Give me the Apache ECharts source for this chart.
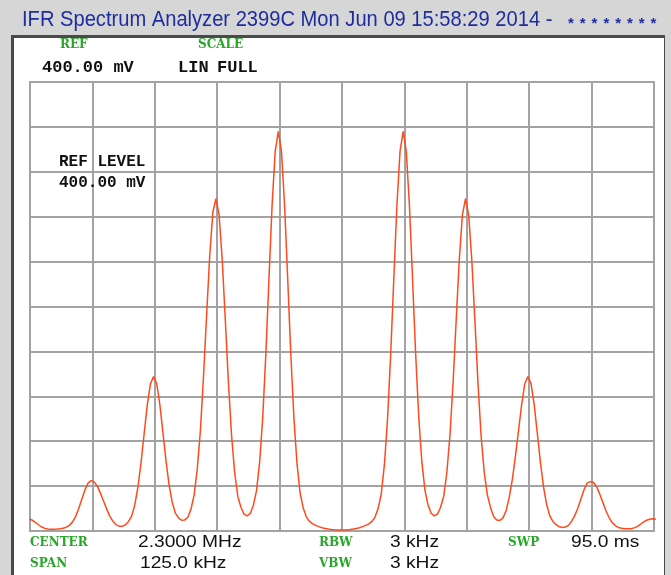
<!DOCTYPE html>
<html>
  <meta charset="UTF-8">
  <title>IFR 2399C spectrum</title>
  <style type="text/css">
    html,body{margin:0px;height:100%;width:100%;background:#d6d6d6}
    .container{width:671px;height:575px}
  </style>
  <script type="text/javascript" src="https://cdn.jsdelivr.net/npm/echarts@6/dist/echarts.min.js"></script>
  <body>
    <div id="main" class="container"></div>

    <script>
      // trace: offsets from centre in kHz, level in mV
      var startKHz = -62.75;
      var stepKHz = 0.625;
      var levelMV = [
        10.8, 9.8, 8.0, 5.8, 3.8, 2.5, 1.8, 1.5, 1.5, 1.7, 2.0, 2.5, 3.4, 5.0, 7.9, 12.8, 19.9, 28.3, 36.6, 42.7,
        44.9,
        43.8, 39.8, 33.5, 26.5, 19.5, 13.0, 8.5, 5.5, 4.3, 4.3, 5.6, 8.5, 13.5, 23.4, 39.2, 61.1, 87.1, 112.6, 131.1,
        137.5,
        131.4, 113.1, 87.9, 62.2, 40.7, 25.3, 15.9, 11.7, 9.6, 9.9, 12.3, 19.5, 32.0, 55.0, 89.0, 137.0, 192.0, 245.0, 284.0,
        296.0,
        281.9, 242.2, 187.9, 132.1, 85.3, 51.9, 31.0, 21.2, 15.0, 13.4, 15.6, 23.0, 35.9, 61.3, 101.6, 158.1, 225.3, 290.7, 338.5,
        356.0,
        338.2, 290.2, 224.5, 157.0, 100.1, 59.3, 33.4, 20.2, 12.4, 8.5, 6.3, 5.0, 3.9, 2.9, 2.3, 1.8, 1.4, 1.1, 0.9,
        0.8,
        0.9, 1.1, 1.4, 1.8, 2.3, 2.9, 3.9, 5.0, 6.3, 8.5, 12.4, 20.2, 33.4, 59.3, 100.1, 157.0, 224.5, 290.2, 338.2,
        356.0,
        338.5, 290.7, 225.3, 158.1, 101.6, 61.3, 35.9, 23.0, 15.6, 13.4, 15.0, 21.2, 31.0, 51.9, 85.3, 132.1, 187.9, 242.2, 281.9,
        296.0,
        281.6, 241.7, 187.2, 131.1, 84.0, 52.0, 32.0, 21.0, 13.0, 9.9, 9.4, 11.7, 18.0, 30.0, 46.0, 67.0, 90.0, 113.1, 131.4,
        137.5,
        131.1, 112.6, 87.1, 61.1, 39.2, 23.4, 13.5, 8.5, 5.6, 3.8, 3.2, 3.6, 5.0, 8.7, 13.6, 20.5, 28.8, 37.0, 42.9,
        44.0,
        43.2, 39.5, 33.0, 25.5, 18.0, 12.0, 7.5, 4.8, 3.2, 2.4, 2.0, 1.9, 2.0, 2.8, 3.9, 5.8, 8.0, 9.5, 10.4,
        11.0, 10.4
      ];

      // screen annotations
      var titleText = 'IFR Spectrum Analyzer 2399C Mon Jun 09 15:58:29 2014 -';
      var refLabels = ['REF', 'SCALE'];
      var refValues = ['400.00 mV', 'LIN', 'FULL'];
      var refLevel = ['REF LEVEL', '400.00 mV'];
      var footLabels = [['CENTER', 'RBW', 'SWP'], ['SPAN', 'VBW']];
      var footValues = [['2.3000 MHz', '3 kHz', '95.0 ms'], ['125.0 kHz', '3 kHz']];

      var trace = levelMV.map(function (v, i) {
        return [startKHz + i * stepKHz, v];
      });

      var blue = '#1d2d9e';
      var green = '#2aa62a';
      var labelFont = 'bold 12px "DejaVu Serif", serif';
      var monoFont = 'bold 17px "Liberation Mono", monospace';
      var footFont = '16px "Liberation Sans", Arial, sans-serif';

      function txt(s, x, y, font, fill, sx) {
        return {
          type: 'text', x: x, y: y, z: 100, silent: true, scaleX: sx || 1,
          style: { text: s, font: font, fill: fill, verticalAlign: 'middle', textVerticalAlign: 'middle' }
        };
      }

      var graphics = [
        // panel frame
        { type: 'rect', z: -100, shape: { x: 11, y: 35, width: 654, height: 540 }, style: { fill: '#4a4a4a' } },
        { type: 'rect', z: -99, shape: { x: 14, y: 38, width: 650, height: 537 }, style: { fill: '#ffffff' } },
        txt(titleText, 22, 20, '22px "Liberation Sans", sans-serif', blue, 0.915),
        txt(refLabels[0], 60, 45, labelFont, green),
        txt(refLabels[1], 198, 45, labelFont, green),
        txt(refValues[0], 42, 68, monoFont, '#111'),
        txt(refValues[1], 178, 68, monoFont, '#111'),
        txt(refValues[2], 217, 68, monoFont, '#111'),
        txt(refLevel[0], 59, 162, 'bold 16px "Liberation Mono", monospace', '#111'),
        txt(refLevel[1], 59, 183, 'bold 16px "Liberation Mono", monospace', '#111'),
        txt(footLabels[0][0], 30, 543, labelFont, green),
        txt(footLabels[0][1], 319, 543, labelFont, green),
        txt(footLabels[0][2], 508, 543, labelFont, green),
        txt(footLabels[1][0], 30, 564, labelFont, green),
        txt(footLabels[1][1], 319, 564, labelFont, green),
        txt(footValues[0][0], 138, 543, footFont, '#111', 1.2),
        txt(footValues[0][1], 390, 543, footFont, '#111', 1.2),
        txt(footValues[0][2], 571, 543, footFont, '#111', 1.2),
        txt(footValues[1][0], 140, 564, footFont, '#111', 1.2),
        txt(footValues[1][1], 390, 564, footFont, '#111', 1.2)
      ];
      // masked serial number after the title
      for (var k = 0; k < 8; k++) {
        graphics.push(txt('*', 568 + k * 11.8, 24, 'bold 15px "Liberation Sans", sans-serif', blue));
      }

      var myChart = echarts.init(document.getElementById('main'));
      var gridLine = { show: true, lineStyle: { color: '#a3a3a3', width: 2 } };
      var option = {
        backgroundColor: '#d6d6d6',
        animation: false,
        grid: {
          left: 30, top: 82, width: 624, height: 449,
          show: true, borderColor: '#a3a3a3', borderWidth: 2, backgroundColor: 'transparent'
        },
        xAxis: {
          type: 'value', min: -62.5, max: 62.5, interval: 12.5,
          axisLine: { show: false }, axisTick: { show: false }, axisLabel: { show: false },
          splitLine: gridLine
        },
        yAxis: {
          type: 'value', min: 0, max: 400, interval: 40,
          axisLine: { show: false }, axisTick: { show: false }, axisLabel: { show: false },
          splitLine: gridLine
        },
        graphic: graphics,
        series: [
          {
            type: 'line',
            data: trace,
            showSymbol: false,
            clip: true,
            lineStyle: { color: '#ff4a1c', width: 1.5 }
          }
        ]
      };
      myChart.setOption(option);
    </script>
  </body>
</html>
